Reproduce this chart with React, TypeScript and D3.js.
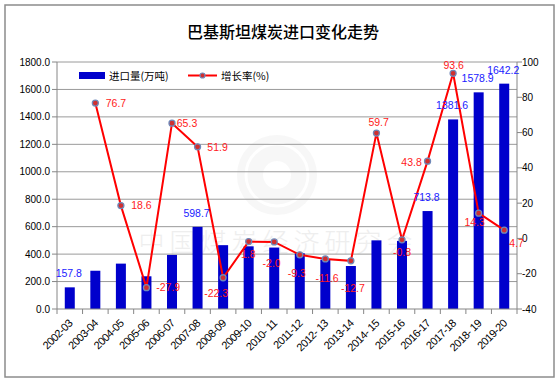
import React from 'react';
import * as d3 from 'd3';

const categories = ['2002-03', '2003-04', '2004-05', '2005-06', '2006-07', '2007-08', '2008-09', '2009-10', '2010- 11', '2011-12', '2012- 13', '2013-14', '2014- 15', '2015-16', '2016-17', '2017-18', '2018- 19', '2019-20'];
const importVolume = [157.8, 278.8, 330.7, 238.4, 394.1, 598.7, 465.2, 456.8, 447.7, 406.0, 358.9, 313.3, 500.3, 496.3, 713.8, 1381.6, 1578.9, 1642.2];
const growthRate: (number | null)[] = [null, 76.7, 18.6, -27.9, 65.3, 51.9, -22.3, -1.8, -2.0, -9.3, -11.6, -12.7, 59.7, -0.8, 43.8, 93.6, 14.3, 4.7];
const growthLabels = ['', '76.7', '18.6', '-27.9', '65.3', '51.9', '-22.3', '1.8', '-2.0', '-9.3', '-11.6', '-12.7', '59.7', '-0.8', '43.8', '93.6', '14.3', '4.7'];
const labeledBars = ['2002-03', '2007-08', '2016-17', '2017-18', '2018- 19', '2019-20'];
const leftTicks = [0, 200, 400, 600, 800, 1000, 1200, 1400, 1600, 1800];
const rightTicks = [-40, -20, 0, 20, 40, 60, 80, 100];
const title = '巴基斯坦煤炭进口变化走势';
const legendBar = '进口量(万吨)';
const legendLine = '增长率(%)';

// label offsets (style): [dx, dy] from the point, text centred
const growthLabelOffset: [number, number][] = [
  [0, 0], [20.6, 4], [20.6, 3.6], [21.8, 3.4], [15, 3.3], [20, 3.7], [-7, 19.5], [-0.4, 16.4],
  [-2.6, 25], [-3, 22], [1.8, 22.8], [2, 31], [2.2, -7.4], [0, 16], [-16, 4.4], [0.6, -4.3],
  [-4, 13.3], [12.4, 17],
];

const W = 560, H = 383;
const plot = { left: 57, right: 517, top: 62, bottom: 309 };
const numFont = '"Liberation Sans", Arial, sans-serif';
const cjkFont = '"Noto Sans CJK SC", sans-serif';

export default function App() {
  const x = d3.scaleBand<string>().domain(categories).range([plot.left, plot.right]).paddingInner(0).paddingOuter(0);
  const bw = 10;
  const yL = d3.scaleLinear().domain([0, 1800]).range([plot.bottom, plot.top]);
  const yR = d3.scaleLinear().domain([-40, 100]).range([plot.bottom, plot.top]);
  const cx = (c: string) => (x(c) as number) + x.bandwidth() / 2;

  const pts = categories
    .map((c, i) => ({ c, i, v: growthRate[i] }))
    .filter((d) => d.v !== null) as { c: string; i: number; v: number }[];
  const line = d3.line<{ c: string; v: number }>().x((d) => cx(d.c)).y((d) => yR(d.v));

  const boundaries = categories.map((c) => x(c) as number).concat([plot.right]);

  return (
    <svg width={W} height={H} style={{ position: 'absolute', left: 0, top: 0, background: '#fff' }}>
      <rect x={0} y={0} width={W} height={H} fill="#fff" />
      <rect x={5} y={5} width={549} height={372} fill="none" stroke="#8c8c8c" strokeWidth={1.5} />
      <text x={283} y={38} textAnchor="middle" fontFamily={cjkFont} fontSize={16} fontWeight={500} fill="#000">{title}</text>

      {/* watermark */}
      <g opacity={0.5}>
        <circle cx={277} cy={175} r={40} fill="#f0f0f0" />
        <circle cx={277} cy={175} r={31} fill="none" stroke="#fff" strokeWidth={3} />
        <circle cx={277} cy={175} r={14} fill="#fff" />
      </g>
      <text x={278} y={252} textAnchor="middle" fontFamily={cjkFont} fontWeight={300} fontSize={26} letterSpacing={5} fill="#eeeeee">中国煤炭经济研究会</text>

      {/* grid */}
      {leftTicks.filter((t) => t > 0).map((t) => (
        <line key={'g' + t} x1={plot.left} x2={plot.right} y1={yL(t)} y2={yL(t)} stroke="#9a9a9a" strokeWidth={1} />
      ))}

      {/* bars */}
      {categories.map((c, i) => (
        <rect key={'b' + c} x={cx(c) - bw / 2} y={yL(importVolume[i])} width={bw} height={plot.bottom - yL(importVolume[i])} fill="#0000CC" />
      ))}

      {/* axes */}
      <line x1={plot.left} x2={plot.left} y1={plot.top} y2={plot.bottom} stroke="#868686" />
      <line x1={plot.right} x2={plot.right} y1={plot.top} y2={plot.bottom} stroke="#868686" />
      <line x1={plot.left} x2={plot.right} y1={plot.bottom} y2={plot.bottom} stroke="#868686" />
      {leftTicks.map((t) => (
        <g key={'lt' + t}>
          <line x1={plot.left - 5} x2={plot.left} y1={yL(t)} y2={yL(t)} stroke="#868686" />
          <text x={50} y={yL(t) + 3.5} textAnchor="end" fontFamily={numFont} fontSize={10} fill="#000">{t.toFixed(1)}</text>
        </g>
      ))}
      {rightTicks.map((t) => (
        <g key={'rt' + t}>
          <line x1={plot.right} x2={plot.right + 5} y1={yR(t)} y2={yR(t)} stroke="#868686" />
          <text x={522} y={yR(t) + 3.5} textAnchor="start" fontFamily={numFont} fontSize={10} fill="#000">{t}</text>
        </g>
      ))}
      {boundaries.map((b, i) => (
        <line key={'xt' + i} x1={b} x2={b} y1={plot.bottom} y2={plot.bottom + 5} stroke="#868686" />
      ))}
      {categories.map((c) => (
        <text key={'xl' + c} transform={`translate(${cx(c) + 3.5},${plot.bottom + 15}) rotate(-45)`} textAnchor="end" fontFamily={numFont} fontSize={11} letterSpacing={-0.5} fill="#000">{c}</text>
      ))}

      {/* line */}
      <path d={line(pts) as string} fill="none" stroke="#FF0000" strokeWidth={2} />
      {pts.map((d) => (
        <circle key={'p' + d.c} cx={cx(d.c)} cy={yR(d.v)} r={3} fill="#d03030" stroke="#6f88b8" strokeWidth={1.3} />
      ))}

      {/* bar labels */}
      {categories.map((c, i) => labeledBars.includes(c) ? (
        <text key={'bl' + c} x={cx(c) - 1} y={yL(importVolume[i]) - 10} textAnchor="middle" fontFamily={numFont} fontSize={10.5} fill="#1a1aff">{importVolume[i].toFixed(1)}</text>
      ) : null)}

      {/* growth labels */}
      {pts.map((d) => (
        <text key={'gl' + d.c} x={cx(d.c) + growthLabelOffset[d.i][0]} y={yR(d.v) + growthLabelOffset[d.i][1]} textAnchor="middle" fontFamily={numFont} fontSize={10.5} fill="#ff1a1a">{growthLabels[d.i]}</text>
      ))}

      {/* legend */}
      <rect x={79} y={72} width={26} height={7} fill="#0000CC" />
      <text x={109} y={80} fontFamily={cjkFont} fontSize={10.5} fill="#000">{legendBar}</text>
      <line x1={188} x2={217} y1={75.5} y2={75.5} stroke="#FF0000" strokeWidth={2} />
      <circle cx={202.5} cy={75.5} r={2.5} fill="#d03030" stroke="#6f88b8" strokeWidth={1.2} />
      <text x={221} y={80} fontFamily={cjkFont} fontSize={10.5} fill="#000">{legendLine}</text>
    </svg>
  );
}
